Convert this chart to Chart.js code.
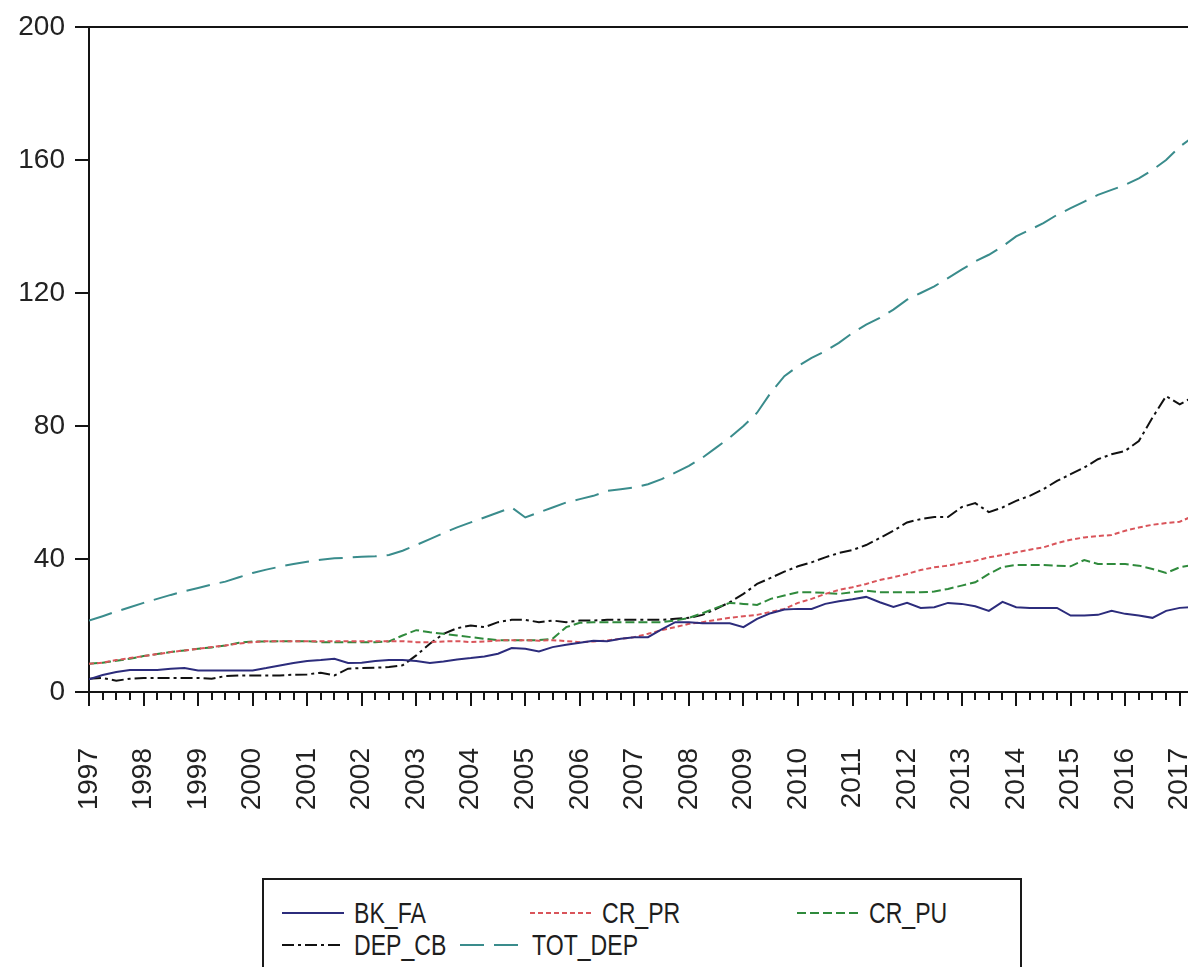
<!DOCTYPE html>
<html>
<head>
<meta charset="utf-8">
<script src="https://cdn.jsdelivr.net/npm/chart.js@4.4.1/dist/chart.umd.min.js"></script>
<style>
  html, body { margin: 0; padding: 0; background: #fff; overflow: hidden; width: 1188px; height: 967px; }
  #wrap { position: absolute; left: 0; top: 0; }
  #legend {
    position: absolute; left: 262px; top: 878px; width: 756px; height: 130px;
    border: 2px solid #1a1a1a; background: #fff;
    font-family: "Liberation Sans", Arial, sans-serif;
    font-size: 30px; color: #1e1e1e;
  }
  .item { position: absolute; height: 30px; display: flex; align-items: center; white-space: nowrap; }
  .item canvas { margin-right: 10px; }
  .item span { display: inline-block; transform: scaleX(0.77); transform-origin: left center; }
</style>
</head>
<body>
<div id="wrap"><canvas id="chart" width="1215" height="870"></canvas></div>
<div id="legend"></div>
<script>
// Quarterly observations, first quarter of 1997 to second quarter of 2017
const startYear = 1997;
const periodsPerYear = 4;

const yearTicks = [1997, 1998, 1999, 2000, 2001, 2002, 2003, 2004, 2005, 2006, 2007,
                   2008, 2009, 2010, 2011, 2012, 2013, 2014, 2015, 2016, 2017];
const yTicks = [0, 40, 80, 120, 160, 200];

const BK_FA = [
  3.8, 5.1, 6.0, 6.6,   6.6, 6.6, 7.0, 7.2,   6.5, 6.5, 6.5, 6.5,   6.5, 7.2, 8.0, 8.7,
  9.3, 9.6, 10.0, 8.7,  8.8, 9.3, 9.6, 9.6,   9.3, 8.7, 9.2, 9.8,   10.2, 10.7, 11.5, 13.2,
  13.0, 12.2, 13.5, 14.2, 14.8, 15.4, 15.3, 16.0, 16.5, 16.5, 18.8, 21.0, 21.0, 20.7, 20.7, 20.7,
  19.5, 22.0, 23.7, 24.8, 25.0, 25.0, 26.5, 27.3, 27.9, 28.6, 27.0, 25.6, 26.8, 25.3, 25.5, 26.8,
  26.5, 25.8, 24.4, 27.1, 25.5, 25.3, 25.3, 25.3, 23.0, 23.0, 23.2, 24.4, 23.5, 23.0, 22.3, 24.4,
  25.3, 25.6
];
const CR_PR = [
  8.5, 8.8, 9.6, 10.2,  10.8, 11.4, 12.0, 12.5, 13.0, 13.5, 14.0, 14.6, 15.0, 15.3, 15.3, 15.3,
  15.3, 15.3, 15.3, 15.3, 15.3, 15.3, 15.3, 15.3, 15.0, 15.0, 15.2, 15.3, 15.0, 15.2, 15.5, 15.6,
  15.6, 15.4, 15.6, 15.3, 15.0, 15.2, 15.5, 16.0, 16.5, 17.5, 18.6, 19.5, 20.5, 21.0, 21.7, 22.3,
  22.8, 23.2, 24.1, 25.0, 26.8, 28.0, 29.5, 30.7, 31.5, 32.5, 33.7, 34.5, 35.5, 36.7, 37.5, 38.0,
  38.8, 39.5, 40.5, 41.2, 42.0, 42.8, 43.5, 44.8, 45.8, 46.5, 46.9, 47.2, 48.5, 49.5, 50.3, 50.8,
  51.2, 53.0
];
const CR_PU = [
  8.5, 8.8, 9.4, 10.0,  10.8, 11.4, 12.0, 12.5, 13.0, 13.4, 14.0, 14.8, 15.2, 15.2, 15.3, 15.3,
  15.3, 15.0, 15.0, 15.0, 15.0, 15.0, 15.2, 17.0, 18.6, 18.0, 17.5, 17.0, 16.5, 16.0, 15.6, 15.6,
  15.6, 15.6, 16.0, 19.5, 20.8, 21.0, 21.0, 21.0, 21.0, 21.0, 21.0, 21.5, 22.3, 23.7, 25.3, 26.8,
  26.5, 26.2, 28.0, 29.0, 30.0, 30.0, 29.8, 29.5, 30.0, 30.5, 30.0, 30.0, 30.0, 30.0, 30.2, 31.0,
  32.0, 33.0, 35.5, 37.6, 38.2, 38.2, 38.2, 38.0, 37.8, 39.7, 38.5, 38.5, 38.5, 38.0, 37.0, 35.8,
  37.5, 38.2
];
const DEP_CB = [
  4.0, 4.2, 3.4, 4.0,   4.2, 4.2, 4.2, 4.2,   4.2, 4.0, 4.8, 5.0,   5.0, 5.0, 5.0, 5.2,
  5.3, 5.8, 5.0, 7.0,   7.2, 7.3, 7.5, 8.0,   11.0, 14.5, 17.5, 19.2, 20.0, 19.5, 21.0, 21.7,
  21.7, 21.0, 21.5, 21.0, 21.5, 21.5, 21.7, 21.7, 21.7, 21.7, 21.7, 22.0, 22.3, 23.2, 25.0, 27.0,
  29.5, 32.5, 34.3, 36.2, 37.8, 39.0, 40.5, 41.8, 42.7, 44.2, 46.3, 48.5, 51.0, 52.0, 52.6, 52.6,
  55.6, 56.8, 54.1, 55.5, 57.5, 59.0, 61.0, 63.5, 65.5, 67.5, 70.0, 71.5, 72.5, 75.5, 82.5, 89.0,
  86.5, 88.8
];
const TOT_DEP = [
  21.5, 22.8, 24.2, 25.5, 26.8, 28.0, 29.2, 30.3, 31.3, 32.3, 33.2, 34.5, 35.8, 36.8, 37.7, 38.5,
  39.2, 39.8, 40.2, 40.4, 40.7, 40.8, 41.2, 42.5, 44.2, 46.0, 47.8, 49.5, 51.0, 52.5, 54.0, 55.5,
  52.5, 54.0, 55.5, 57.0, 58.0, 59.0, 60.5, 61.0, 61.5, 62.5, 64.0, 66.0, 68.0, 70.5, 73.5, 76.5,
  80.0, 84.0, 90.0, 95.0, 98.0, 100.5, 102.5, 105.0, 108.0, 110.5, 112.5, 115.0, 118.0, 120.0, 122.0, 124.5,
  127.0, 129.5, 131.5, 134.0, 137.0, 139.0, 141.0, 143.5, 145.5, 147.5, 149.5, 151.0, 152.5, 154.5, 157.0, 160.0,
  164.0, 167.0
];

const seriesStyles = [
  { label: 'BK_FA',   data: BK_FA,   color: '#2c2c7c', dash: [] },
  { label: 'CR_PR',   data: CR_PR,   color: '#d9545a', dash: [5, 3] },
  { label: 'CR_PU',   data: CR_PU,   color: '#2f8a3c', dash: [9, 4] },
  { label: 'DEP_CB',  data: DEP_CB,  color: '#111111', dash: [12, 4, 3, 4] },
  { label: 'TOT_DEP', data: TOT_DEP, color: '#3a8c8c', dash: [24, 10] }
];

// pair each observation with its position on the time axis (years)
function toPoints(values) {
  return values.map((v, i) => ({ x: startYear + i / periodsPerYear, y: v }));
}

const INK = '#141414';

// top edge of the frame plus quarterly minor ticks under the time axis
const framePlugin = {
  id: 'frame',
  afterDraw(chart) {
    const { ctx, chartArea, scales } = chart;
    ctx.save();
    ctx.strokeStyle = INK;
    ctx.lineWidth = 2;
    ctx.beginPath();
    ctx.moveTo(chartArea.left - 1, chartArea.top);
    ctx.lineTo(chartArea.right + 20, chartArea.top);
    ctx.stroke();
    const xs = scales.x;
    ctx.beginPath();
    for (let q = 0; q <= (xs.max - xs.min) * periodsPerYear; q++) {
      if (q % periodsPerYear === 0) continue;
      const px = Math.round(xs.getPixelForValue(xs.min + q / periodsPerYear));
      ctx.moveTo(px, chartArea.bottom);
      ctx.lineTo(px, chartArea.bottom + 8);
    }
    ctx.stroke();
    ctx.restore();
  }
};

new Chart(document.getElementById('chart'), {
  type: 'line',
  data: {
    datasets: seriesStyles.map(s => ({
      label: s.label,
      data: toPoints(s.data),
      borderColor: s.color,
      borderDash: s.dash,
      borderWidth: 2,
      pointRadius: 0,
      tension: 0,
      fill: false
    }))
  },
  options: {
    responsive: false,
    animation: false,
    devicePixelRatio: 1,
    layout: { padding: { top: 27, left: 0, right: 8, bottom: 0 } },
    plugins: { legend: { display: false }, tooltip: { enabled: false } },
    scales: {
      x: {
        type: 'linear',
        min: 1997,
        max: 2017.5,
        afterBuildTicks: s => { s.ticks = yearTicks.map(v => ({ value: v })); },
        afterFit: s => { s.height = 178; s.paddingLeft = 0; s.paddingRight = 0; },
        border: { display: true, color: INK, width: 2 },
        grid: { display: true, drawOnChartArea: false, drawTicks: true, tickLength: 14, color: INK, lineWidth: 2 },
        ticks: {
          autoSkip: false,
          minRotation: 90,
          maxRotation: 90,
          padding: 42,
          color: '#222',
          font: { family: '"Liberation Sans", Arial, sans-serif', size: 28 },
          callback: v => String(v)
        }
      },
      y: {
        min: 0,
        max: 200,
        afterBuildTicks: s => { s.ticks = yTicks.map(v => ({ value: v })); },
        afterFit: s => { s.width = 89; s.paddingTop = 0; s.paddingBottom = 0; },
        border: { display: true, color: INK, width: 2 },
        grid: { display: true, drawOnChartArea: false, drawTicks: true, tickLength: 14, color: INK, lineWidth: 2 },
        ticks: {
          padding: 10,
          color: '#222',
          font: { family: '"Liberation Sans", Arial, sans-serif', size: 28 },
          callback: v => String(v)
        }
      }
    }
  },
  plugins: [framePlugin]
});

// legend box: sample line and series name for each series
const legendLayout = [
  { left: 18,  top: 18 }, { left: 266, top: 18 }, { left: 533, top: 18 },
  { left: 18,  top: 50 }, { left: 196, top: 50 }
];
const legend = document.getElementById('legend');
seriesStyles.forEach((s, i) => {
  const item = document.createElement('div');
  item.className = 'item';
  item.style.left = legendLayout[i].left + 'px';
  item.style.top = legendLayout[i].top + 'px';
  const sample = document.createElement('canvas');
  sample.width = 62; sample.height = 8;
  const c = sample.getContext('2d');
  c.strokeStyle = s.color; c.lineWidth = 2; c.setLineDash(s.dash);
  c.beginPath(); c.moveTo(0, 4); c.lineTo(62, 4); c.stroke();
  const label = document.createElement('span');
  label.textContent = s.label;
  item.appendChild(sample);
  item.appendChild(label);
  legend.appendChild(item);
});
</script>
</body>
</html>
